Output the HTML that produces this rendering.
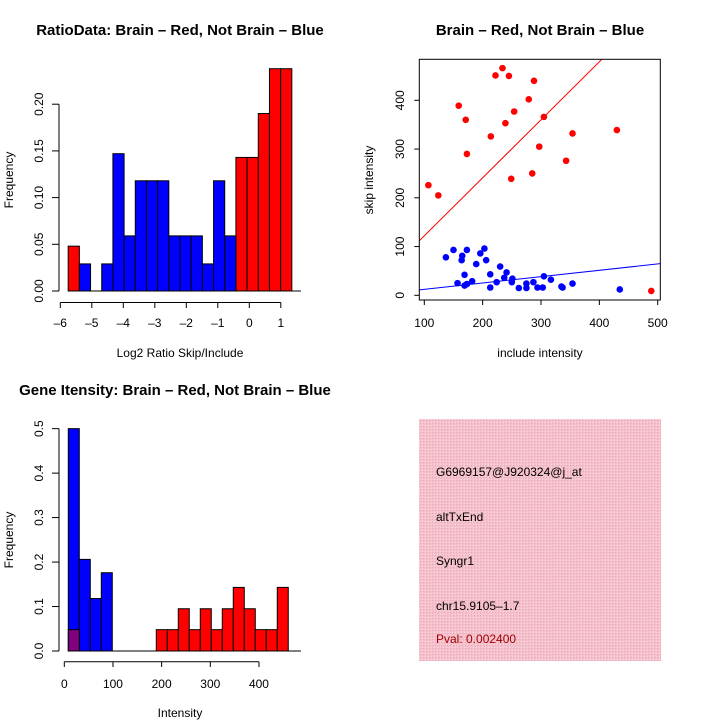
<!DOCTYPE html>
<html><head><meta charset="utf-8"><style>
body{margin:0;background:#fff}
svg{display:block;font-family:"Liberation Sans",sans-serif}
</style></head><body>
<svg id="c" width="720" height="720" viewBox="0 0 720 720">
<defs>
<pattern id="hatch" width="3" height="3" patternUnits="userSpaceOnUse">
<rect width="3" height="3" fill="#f5c0cc"/><rect width="1" height="1" fill="#e8aab8"/><rect x="2" y="2" width="1" height="1" fill="#ffffff" opacity="0.4"/>
</pattern>
</defs>
<text x="180" y="35" font-size="15" font-weight="bold" text-anchor="middle">RatioData: Brain – Red, Not Brain – Blue</text>
<text x="540" y="35" font-size="15" font-weight="bold" text-anchor="middle">Brain – Red, Not Brain – Blue</text>
<text x="175" y="395" font-size="15" font-weight="bold" text-anchor="middle">Gene Itensity: Brain – Red, Not Brain – Blue</text>
<g id="p1"></g>
<g id="p2"></g>
<g id="p3"></g>
<g>
<rect x="419" y="419" width="242" height="242" fill="url(#hatch)"/>
<g font-size="12">
<text x="436" y="476">G6969157@J920324@j_at</text>
<text x="436" y="521">altTxEnd</text>
<text x="436" y="565">Syngr1</text>
<text x="436" y="610">chr15.9105–1.7</text>
<text x="436" y="643" fill="#a00000">Pval: 0.002400</text>
</g></g>
</svg>
<script>
// Ratio histogram data
const ratioStart = -5.75;
const ratioBinW = 0.355;
const ratioRed = [0.048,0,0,0,0,0,0,0,0,0,0,0,0,0,0,0.143,0.143,0.19,0.238,0.238];
const ratioBlue = [0,0.029,0,0.029,0.147,0.059,0.118,0.118,0.118,0.059,0.059,0.059,0.029,0.118,0.059,0,0,0,0,0];
const ratioXTicks = [-6,-5,-4,-3,-2,-1,0,1];
const ratioYTicks = ["0.00","0.05","0.10","0.15","0.20"];
// Scatter data
const redX = [107,124,159,171,173,214,222,234,245,239,254,249,279,288,305,297,285,343,354,430,489];
const redY = [226,205,389,360,290,326,451,466,450,353,377,239,402,440,366,305,250,276,332,339,9];
const blueX = [137,150,165,164,173,157,169,169,173,182,189,196,203,206,213,213,224,230,237,241,251,250,262,275,275,287,294,303,305,317,335,337,354,435];
const blueY = [78,93,81,72,93,25,42,20,23,29,64,86,96,72,43,16,27,59,36,47,34,27,15,24,15,27,16,16,39,32,18,16,24,12];
const redFit = [3,1.19];
const blueFit = [-0.7,0.13];
const scatXTicks = [100,200,300,400,500];
const scatYTicks = [0,100,200,300,400];
// Intensity histogram data
const intStart = 8.2;
const intBinW = 22.6;
const intBlue = [0.5,0.206,0.118,0.176,0,0,0,0,0,0,0,0,0,0,0,0,0,0,0,0];
const intRed = [0.048,0,0,0,0,0,0,0,0.048,0.048,0.095,0.048,0.095,0.048,0.095,0.143,0.095,0.048,0.048,0.143];
const intXTicks = [0,100,200,300,400];
const intYTicks = ["0.0","0.1","0.2","0.3","0.4","0.5"];

const NS="http://www.w3.org/2000/svg";
function mk(p,t,a,txt){const e=document.createElementNS(NS,t);for(const k in a)e.setAttribute(k,a[k]);if(txt!==undefined)e.textContent=txt;p.appendChild(e);return e;}

// ---- Plot 1
(function(){
const g=document.getElementById('p1');
const X=v=>60.3+(v+6)*31.5, Y=v=>291-v*934;
mk(g,'line',{x1:68,y1:291,x2:301,y2:291,stroke:'#000'});
ratioRed.forEach((v,i)=>{if(v<=0)return;const x0=X(ratioStart+i*ratioBinW),x1=X(ratioStart+(i+1)*ratioBinW);
const r=mk(g,'rect',{x:x0,y:Y(v),width:x1-x0,height:Y(0)-Y(v),fill:'#f00',stroke:'#000'});

});
ratioBlue.forEach((v,i)=>{if(v<=0)return;const x0=X(ratioStart+i*ratioBinW),x1=X(ratioStart+(i+1)*ratioBinW);
const r=mk(g,'rect',{x:x0,y:Y(v),width:x1-x0,height:Y(0)-Y(v),fill:'#00f',stroke:'#000'});

});
mk(g,'line',{x1:X(-6),y1:302.5,x2:X(1),y2:302.5,stroke:'#000'});
ratioXTicks.forEach(t=>{mk(g,'line',{x1:X(t),y1:302.5,x2:X(t),y2:308,stroke:'#000'});
const l=mk(g,'text',{x:X(t),y:327,'font-size':12,'text-anchor':'middle'},t<0?'–'+(-t):String(t));

});
const yv=ratioYTicks.map(Number);
mk(g,'line',{x1:59,y1:Y(0),x2:59,y2:Y(0.2),stroke:'#000'});
ratioYTicks.forEach((t,i)=>{const y=Y(yv[i]);mk(g,'line',{x1:52,y1:y,x2:59,y2:y,stroke:'#000'});
const l=mk(g,'text',{x:0,y:0,'font-size':12,'text-anchor':'middle',transform:`translate(43,${y}) rotate(-90)`},t);

});
const a=mk(g,'text',{x:180,y:357,'font-size':12,'text-anchor':'middle'},'Log2 Ratio Skip/Include');


const b=mk(g,'text',{x:0,y:0,'font-size':12,'text-anchor':'middle',transform:'translate(13,180) rotate(-90)'},'Frequency');


})();

// ---- Plot 2
(function(){
const g=document.getElementById('p2');
const X=v=>424.3+(v-100)*0.5835, Y=v=>295.3-v*0.4875;
const L=419.3,R=660.3,T=59.3,B=300;
const cp=mk(g,'clipPath',{id:'cp2'});mk(cp,'rect',{x:L,y:T,width:R-L,height:B-T});
const lg=mk(g,'g',{'clip-path':'url(#cp2)'});
const xa=(L-424.3)/0.5835+100, xb=(R-424.3)/0.5835+100;
const rl=mk(lg,'line',{x1:X(xa),y1:Y(redFit[0]+redFit[1]*xa),x2:X(xb),y2:Y(redFit[0]+redFit[1]*xb),stroke:'#f00'});


const bl=mk(lg,'line',{x1:X(xa),y1:Y(blueFit[0]+blueFit[1]*xa),x2:X(xb),y2:Y(blueFit[0]+blueFit[1]*xb),stroke:'#00f'});


redX.forEach((x,i)=>{const c=mk(g,'circle',{cx:X(x),cy:Y(redY[i]),r:3.3,fill:'#f00'});

});
blueX.forEach((x,i)=>{const c=mk(g,'circle',{cx:X(x),cy:Y(blueY[i]),r:3.3,fill:'#00f'});

});
mk(g,'rect',{x:L,y:T,width:R-L,height:B-T,fill:'none',stroke:'#000'});
scatXTicks.forEach(t=>{mk(g,'line',{x1:X(t),y1:B,x2:X(t),y2:B+5,stroke:'#000'});
const l=mk(g,'text',{x:X(t),y:327,'font-size':12,'text-anchor':'middle'},String(t));

});
scatYTicks.forEach(t=>{mk(g,'line',{x1:L-5,y1:Y(t),x2:L,y2:Y(t),stroke:'#000'});
const l=mk(g,'text',{x:0,y:0,'font-size':12,'text-anchor':'middle',transform:`translate(404,${Y(t)}) rotate(-90)`},String(t));

});
const a=mk(g,'text',{x:540,y:357,'font-size':12,'text-anchor':'middle'},'include intensity');


const b=mk(g,'text',{x:0,y:0,'font-size':12,'text-anchor':'middle',transform:'translate(373,180) rotate(-90)'},'skip intensity');


})();

// ---- Plot 3
(function(){
const g=document.getElementById('p3');
const X=v=>64.3+v*0.4867, Y=v=>651-v*444.7;
mk(g,'line',{x1:68,y1:651,x2:301,y2:651,stroke:'#000'});
intBlue.forEach((v,i)=>{if(v<=0)return;const x0=X(intStart+i*intBinW),x1=X(intStart+(i+1)*intBinW);
const r=mk(g,'rect',{x:x0,y:Y(v),width:x1-x0,height:Y(0)-Y(v),fill:'#00f',stroke:'#000'});

});
intRed.forEach((v,i)=>{if(v<=0)return;const x0=X(intStart+i*intBinW),x1=X(intStart+(i+1)*intBinW);
const col=intBlue[i]>0?'#800080':'#f00';
const r=mk(g,'rect',{x:x0,y:Y(v),width:x1-x0,height:Y(0)-Y(v),fill:col,stroke:'#000'});

});
mk(g,'line',{x1:X(0),y1:661.7,x2:X(400),y2:661.7,stroke:'#000'});
intXTicks.forEach(t=>{mk(g,'line',{x1:X(t),y1:661.7,x2:X(t),y2:667,stroke:'#000'});
const l=mk(g,'text',{x:X(t),y:688,'font-size':12,'text-anchor':'middle'},String(t));

});
const yv=intYTicks.map(Number);
mk(g,'line',{x1:59,y1:Y(0),x2:59,y2:Y(0.5),stroke:'#000'});
intYTicks.forEach((t,i)=>{const y=Y(yv[i]);mk(g,'line',{x1:52,y1:y,x2:59,y2:y,stroke:'#000'});
const l=mk(g,'text',{x:0,y:0,'font-size':12,'text-anchor':'middle',transform:`translate(43,${y}) rotate(-90)`},t);

});
const a=mk(g,'text',{x:180,y:717,'font-size':12,'text-anchor':'middle'},'Intensity');


const b=mk(g,'text',{x:0,y:0,'font-size':12,'text-anchor':'middle',transform:'translate(13,540) rotate(-90)'},'Frequency');


})();
</script>
</body></html>
